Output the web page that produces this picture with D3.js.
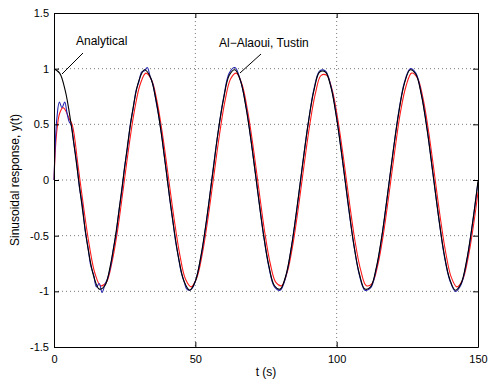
<!DOCTYPE html>
<html>
<head>
<meta charset="utf-8">
<script src="https://cdn.jsdelivr.net/npm/d3@7"></script>
<style>
  body { margin: 0; background: #fff; }
  text { font-family: "Liberation Sans", Arial, sans-serif; }
</style>
</head>
<body>
<div id="chart"></div>
<script>
// tick labels
const xTicks = [0, 50, 100, 150];
const yTicks = [-1.5, -1, -0.5, 0, 0.5, 1, 1.5];
const yTickLabels = ["-1.5", "-1", "-0.5", "0", "0.5", "1", "1.5"];

// analytical response (black)
const analyticalT = [0, 2, 4, 6, 8, 10, 12, 14, 16, 18, 20, 22, 24, 26, 28, 30, 32, 34, 36, 38,
  40, 42, 44, 46, 48, 50, 52, 54, 56, 58, 60, 62, 64, 66, 68, 70, 72, 74, 76, 78,
  80, 82, 84, 86, 88, 90, 92, 94, 96, 98, 100, 102, 104, 106, 108, 110, 112, 114, 116, 118,
  120, 122, 124, 126, 128, 130, 132, 134, 136, 138, 140, 142, 144, 146, 148, 150];
const analyticalY = [1.00, 0.96, 0.80, 0.51, 0.14, -0.25, -0.61, -0.86, -0.98, -0.95,
  -0.76, -0.46, -0.08, 0.31, 0.65, 0.89, 0.99, 0.93, 0.73, 0.41,
  0.02, -0.36, -0.69, -0.91, -0.99, -0.91, -0.68, -0.35, 0.03, 0.42,
  0.73, 0.94, 0.99, 0.89, 0.64, 0.30, -0.09, -0.47, -0.77, -0.95,
  -0.98, -0.86, -0.60, -0.24, 0.15, 0.52, 0.81, 0.97, 0.97, 0.83,
  0.55, 0.19, -0.20, -0.57, -0.84, -0.98, -0.96, -0.79, -0.50, -0.13,
  0.26, 0.61, 0.87, 0.99, 0.95, 0.76, 0.45, 0.07, -0.32, -0.66,
  -0.89, -0.99, -0.93, -0.72, -0.40, -0.01];

// Al-Alaoui discretisation (blue)
const alaouiT = [0, 0.5, 1, 1.9, 2.8, 3.8, 4.6, 5.4, 6, 7, 8, 9, 10, 11, 12, 13, 14, 15, 16, 17,
  18, 19, 20, 21, 22, 23, 24, 25, 26, 27, 28, 29, 30, 31, 32, 33, 34, 35, 36, 37,
  38, 39, 40, 41, 42, 43, 44, 45, 46, 47, 48, 49, 50, 52, 54, 56, 58, 60, 62, 64,
  66, 68, 70, 72, 74, 76, 78, 80, 82, 84, 86, 88, 90, 92, 94, 96, 98, 100, 102, 104,
  106, 108, 110, 112, 114, 116, 118, 120, 122, 124, 126, 128, 130, 132, 134, 136, 138, 140, 142, 144,
  146, 148, 150];
const alaouiY = [0, 0.35, 0.55, 0.70, 0.65, 0.70, 0.60, 0.52, 0.50, 0.33, 0.16, -0.07, -0.22, -0.45, -0.60, -0.77, -0.85, -0.96, -0.93, -1.01,
  -0.94, -0.88, -0.78, -0.62, -0.48, -0.27, -0.10, 0.12, 0.29, 0.50, 0.64, 0.80, 0.88, 0.97, 0.98, 1.01, 0.93, 0.86, 0.72, 0.58,
  0.42, 0.22, 0.03, -0.18, -0.36, -0.55, -0.69, -0.83, -0.91, -0.98, -0.99, -0.97, -0.91, -0.69, -0.36, 0.04, 0.42, 0.74, 0.96, 1.01,
  0.89, 0.65, 0.30, -0.09, -0.47, -0.78, -0.96, -0.99, -0.87, -0.60, -0.25, 0.15, 0.52, 0.82, 0.98, 0.98, 0.84, 0.56, 0.19, -0.21,
  -0.57, -0.85, -0.99, -0.97, -0.80, -0.51, -0.13, 0.26, 0.62, 0.88, 1.00, 0.96, 0.77, 0.46, 0.07, -0.32, -0.67, -0.90, -1.00, -0.94,
  -0.73, -0.40, -0.02];

// Tustin discretisation (red)
const tustinT = [0, 0.5, 1, 2, 3.2, 4.2, 5.2, 6.5, 8.5, 10.5, 12.5, 14.5, 16.5, 18.5, 20.5, 22.5, 24.5, 26.5, 28.5, 30.5,
  32.5, 34.5, 36.5, 38.5, 40.5, 42.5, 44.5, 46.5, 48.5, 50.5, 52.5, 54.5, 56.5, 58.5, 60.5, 62.5, 64.5, 66.5, 68.5, 70.5,
  72.5, 74.5, 76.5, 78.5, 80.5, 82.5, 84.5, 86.5, 88.5, 90.5, 92.5, 94.5, 96.5, 98.5, 100.5, 102.5, 104.5, 106.5, 108.5, 110.5,
  112.5, 114.5, 116.5, 118.5, 120.5, 122.5, 124.5, 126.5, 128.5, 130.5, 132.5, 134.5, 136.5, 138.5, 140.5, 142.5, 144.5, 146.5, 148.5, 150];
const tustinY = [0, 0.28, 0.44, 0.60, 0.65, 0.62, 0.56, 0.49, 0.13, -0.25, -0.59, -0.84, -0.95, -0.92, -0.74, -0.45, -0.08, 0.30, 0.63, 0.86,
  0.96, 0.90, 0.70, 0.39, 0.02, -0.35, -0.67, -0.89, -0.96, -0.88, -0.66, -0.34, 0.03, 0.40, 0.71, 0.91, 0.96, 0.86, 0.62, 0.29,
  -0.09, -0.46, -0.75, -0.92, -0.95, -0.83, -0.58, -0.24, 0.14, 0.50, 0.78, 0.94, 0.94, 0.80, 0.53, 0.18, -0.20, -0.55, -0.81, -0.95,
  -0.93, -0.77, -0.49, -0.13, 0.25, 0.60, 0.84, 0.96, 0.92, 0.74, 0.44, 0.07, -0.31, -0.64, -0.87, -0.96, -0.90, -0.70, -0.39, -0.11];

const margin = { top: 13, right: 10, bottom: 33, left: 54 };
const width = 488 - margin.left - margin.right;
const height = 380 - margin.top - margin.bottom;

const svg = d3.select("#chart")
  .append("svg")
  .attr("width", 488)
  .attr("height", 380)
  .append("g")
  .attr("transform", `translate(${margin.left},${margin.top})`);

const xScale = d3.scaleLinear().domain([0, 150]).range([0, width]);
const yScale = d3.scaleLinear().domain([-1.5, 1.5]).range([height, 0]);

// dotted grid
svg.append("g")
  .selectAll("line")
  .data(xTicks.slice(1, -1))
  .enter()
  .append("line")
  .attr("x1", d => xScale(d)).attr("x2", d => xScale(d))
  .attr("y1", 0).attr("y2", height)
  .attr("stroke", "#777").attr("stroke-dasharray", "1,3");

svg.append("g")
  .selectAll("line")
  .data(yTicks.slice(1, -1))
  .enter()
  .append("line")
  .attr("x1", 0).attr("x2", width)
  .attr("y1", d => yScale(d)).attr("y2", d => yScale(d))
  .attr("stroke", "#777").attr("stroke-dasharray", "1,3");

// curves
const line = (ts, ys) => d3.line()
  .x((d, i) => xScale(ts[i]))
  .y(d => yScale(d))
  .curve(d3.curveCatmullRom.alpha(0.5))(ys);

svg.append("path").attr("d", line(tustinT, tustinY))
  .attr("fill", "none").attr("stroke", "#ff1a1a").attr("stroke-width", 1.1);
svg.append("path").attr("d", line(alaouiT, alaouiY))
  .attr("fill", "none").attr("stroke", "#2525b0").attr("stroke-width", 1.1);
svg.append("path").attr("d", line(analyticalT, analyticalY))
  .attr("fill", "none").attr("stroke", "#000").attr("stroke-width", 1.1);

// axes (MATLAB box with inward ticks)
const xAxis = d3.axisBottom(xScale).tickValues(xTicks).tickSizeInner(-5).tickSizeOuter(0).tickPadding(8);
const yAxis = d3.axisLeft(yScale).tickValues(yTicks).tickSizeInner(-5).tickSizeOuter(0).tickPadding(8)
  .tickFormat((d, i) => yTickLabels[i]);

const gx = svg.append("g").attr("transform", `translate(0,${height})`).call(xAxis);
const gy = svg.append("g").call(yAxis);
svg.append("g").call(d3.axisTop(xScale).tickValues(xTicks).tickSizeInner(-5).tickSizeOuter(0).tickFormat(""));
svg.append("g").attr("transform", `translate(${width},0)`)
  .call(d3.axisRight(yScale).tickValues(yTicks).tickSizeInner(-5).tickSizeOuter(0).tickFormat(""));

svg.selectAll(".domain").attr("stroke", "#000");
svg.selectAll(".tick line").attr("stroke", "#000");
svg.selectAll(".tick text").attr("font-size", 11).attr("fill", "#000")
  .style("font-family", "'Liberation Sans', Arial, sans-serif");
gy.selectAll(".tick text").attr("dx", 3);

// axis labels
svg.append("text")
  .attr("x", width / 2)
  .attr("y", height + 29)
  .attr("text-anchor", "middle")
  .attr("font-size", 12)
  .text("t (s)");

svg.append("text")
  .attr("transform", "rotate(-90)")
  .attr("x", -height / 2)
  .attr("y", -35)
  .attr("text-anchor", "middle")
  .attr("font-size", 12)
  .text("Sinusoidal response, y(t)");

// annotations
svg.append("text")
  .attr("x", 22).attr("y", 32)
  .attr("font-size", 12)
  .text("Analytical");
svg.append("line")
  .attr("x1", 29).attr("y1", 40).attr("x2", 8).attr("y2", 61)
  .attr("stroke", "#000");

svg.append("text")
  .attr("x", 165).attr("y", 34)
  .attr("font-size", 12)
  .text("Al\u2212Alaoui, Tustin");
svg.append("line")
  .attr("x1", 207).attr("y1", 41).attr("x2", 186).attr("y2", 60)
  .attr("stroke", "#000");
</script>
</body>
</html>
